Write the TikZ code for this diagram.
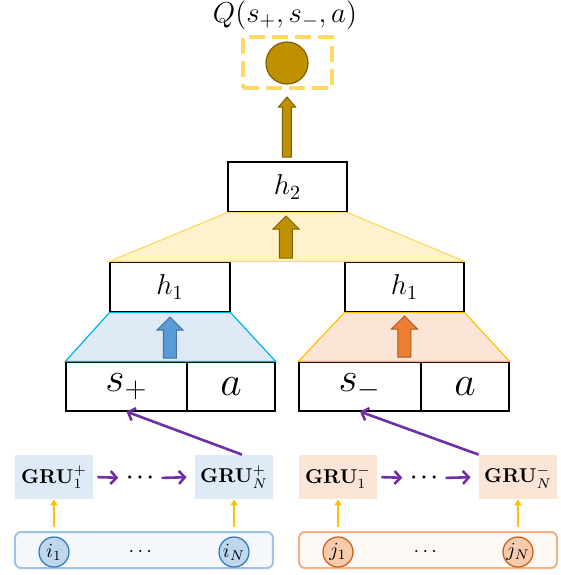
\documentclass[tikz,border=0pt]{standalone}
\usepackage{amsmath, amssymb}
\usepackage{xcolor}
\usepackage{tikz}
\usetikzlibrary{calc, arrows.meta}

\definecolor{goldfill}{HTML}{BF9000}
\definecolor{golddraw}{HTML}{7F6000}
\definecolor{yellowfill}{HTML}{FFF2CC}
\definecolor{yellowdraw}{HTML}{FFD966}
\definecolor{bluefill}{HTML}{DEEBF7}
\definecolor{bluedraw}{HTML}{00B0F0}
\definecolor{bluearrow}{HTML}{5B9BD5}
\definecolor{bluearrowdraw}{HTML}{41719C}
\definecolor{orangefill}{HTML}{FBE5D6}
\definecolor{orangedraw}{HTML}{FFC000}
\definecolor{orangearrow}{HTML}{ED7D31}
\definecolor{orangearrowdraw}{HTML}{AE5A21}
\definecolor{gruarrow}{HTML}{7030A0}
\definecolor{inarrow}{HTML}{FFC000}
\definecolor{inbluedraw}{HTML}{9DC3E6}
\definecolor{inbluefill}{HTML}{F5F9FD}
\definecolor{tokbluefill}{HTML}{BDD7EE}
\definecolor{tokbluedraw}{HTML}{2E75B6}
\definecolor{inorangedraw}{HTML}{F4B183}
\definecolor{inorangefill}{HTML}{FEF8F4}
\definecolor{tokorangefill}{HTML}{F8CBAD}
\definecolor{tokorangedraw}{HTML}{C55A11}

\tikzset{
    cell/.style={draw, fill=white, line width=0.6pt, inner sep=0pt, minimum height=25pt},
    grucell/.style={inner sep=0pt, minimum width=39pt, minimum height=22pt},
    inbox/.style={rounded corners=3pt, line width=1pt, inner sep=0pt, minimum width=129pt, minimum height=18pt},
    token/.style={circle, line width=0.6pt, inner sep=0pt, minimum size=15pt},
    seqarrow/.style={draw=gruarrow, line width=1.3pt, -{Straight Barb[length=3pt, width=6.5pt]}},
    uparrow/.style={draw=inarrow, line width=1pt, -{Triangle[length=3pt, width=3.5pt]}}
}

\begin{document}
\begin{tikzpicture}[x=0.5pt, y=-0.5pt]
    \useasboundingbox (0,0) rectangle (561,575);

    % Dau ra Q
    \node (qlabel) at (285,15) {\Large $Q(s_+, s_-, a)$};
    \node[draw=yellowdraw, dashed, dash pattern=on 8pt off 3.5pt, line width=1.6pt,
          minimum width=44.5pt, minimum height=25.5pt, inner sep=0pt] (qbox) at (287.5,62.5) {};
    \node[circle, fill=goldfill, draw=golddraw, line width=0.6pt, minimum size=21pt, inner sep=0pt] (qout) at (287,63) {};

    % Cac lop an
    \node[cell, minimum width=59.5pt] (h2) at (287.5,187) {\Large $h_2$};
    \node[cell, minimum width=60pt] (h1p) at (170,287) {\Large $h_1$};
    \node[cell, minimum width=59.5pt] (h1m) at (404.5,287) {\Large $h_1$};

    % Dau vao (s, a)
    \node[cell, minimum width=60.5pt, minimum height=24.5pt] (sp) at (126.5,386.5) {\huge $s_+$};
    \node[cell, minimum width=44pt, minimum height=24.5pt] (ap) at (231,386.5) {\huge $a$};
    \node[cell, minimum width=61pt, minimum height=24.5pt] (sm) at (360,386.5) {\huge $s_-$};
    \node[cell, minimum width=44pt, minimum height=24.5pt] (am) at (465,386.5) {\huge $a$};

    % Hinh thang
    \draw[fill=yellowfill, draw=yellowdraw, line width=0.6pt]
        (h2.south west) -- (h2.south east) -- (h1m.north east) -- (h1p.north west) -- cycle;
    \draw[fill=bluefill, draw=bluedraw, line width=0.6pt]
        (h1p.south west) -- (h1p.south east) -- (ap.north east) -- (sp.north west) -- cycle;
    \draw[fill=orangefill, draw=orangedraw, line width=0.6pt]
        (h1m.south west) -- (h1m.south east) -- (am.north east) -- (sm.north west) -- cycle;

    % Mui ten khoi
    \draw[fill=goldfill, draw=golddraw, line width=0.5pt]
        (282.5,157) -- ++(0,-50) -- ++(-4,0) -- ++(8.5,-10) -- ++(8.5,10) -- ++(-4,0) -- ++(0,50) -- cycle;
    \draw[fill=goldfill, draw=golddraw, line width=0.5pt]
        (279.5,258) -- ++(0,-29) -- ++(-6.5,0) -- ++(13,-13) -- ++(13,13) -- ++(-6.5,0) -- ++(0,29) -- cycle;
    \draw[fill=bluearrow, draw=bluearrowdraw, line width=0.5pt]
        (163.5,358) -- ++(0,-28) -- ++(-6.5,0) -- ++(13,-13) -- ++(13,13) -- ++(-6.5,0) -- ++(0,28) -- cycle;
    \draw[fill=orangearrow, draw=orangearrowdraw, line width=0.5pt]
        (398,357) -- ++(0,-28) -- ++(-6.5,0) -- ++(13,-13) -- ++(13,13) -- ++(-6.5,0) -- ++(0,28) -- cycle;

    % GRU
    \node[grucell, fill=bluefill] (g1p) at (54,477) {$\mathbf{GRU}_1^{+}$};
    \node[inner sep=0pt] (dotp) at (142,478) {$\boldsymbol{\cdots}$};
    \node[grucell, fill=bluefill] (gNp) at (234,477) {$\mathbf{GRU}_N^{+}$};
    \node[grucell, fill=orangefill] (g1m) at (338,477) {$\mathbf{GRU}_1^{-}$};
    \node[inner sep=0pt] (dotm) at (426,478) {$\boldsymbol{\cdots}$};
    \node[grucell, fill=orangefill] (gNm) at (518,477) {$\mathbf{GRU}_N^{-}$};

    \draw[seqarrow, shorten <=2pt, shorten >=4pt] (g1p.east) -- (dotp.west);
    \draw[seqarrow, shorten <=2pt, shorten >=4pt] (dotp.east) -- (gNp.west);
    \draw[seqarrow, shorten <=2pt, shorten >=4pt] (g1m.east) -- (dotm.west);
    \draw[seqarrow, shorten <=2pt, shorten >=4pt] (dotm.east) -- (gNm.west);
    \draw[seqarrow] ($(gNp.north)+(8,0)$) -- (sp.south);
    \draw[seqarrow] (gNm.north west) -- (sm.south);

    % Chuoi dau vao
    \node[inbox, draw=inbluedraw, fill=inbluefill] (inp) at (144,550) {};
    \node[token, fill=tokbluefill, draw=tokbluedraw] (i1) at (54,552) {$i_1$};
    \node (idots) at (142,552) {$\cdots$};
    \node[token, fill=tokbluefill, draw=tokbluedraw] (iN) at (234,552) {$i_N$};

    \node[inbox, draw=inorangedraw, fill=inorangefill] (inm) at (428,550) {};
    \node[token, fill=tokorangefill, draw=tokorangedraw] (j1) at (338,552) {$j_1$};
    \node (jdots) at (427,552) {$\cdots$};
    \node[token, fill=tokorangefill, draw=tokorangedraw] (jN) at (518,552) {$j_N$};

    \draw[uparrow] ($(inp.north -| i1)+(0,-4)$) -- (g1p.south);
    \draw[uparrow] ($(inp.north -| iN)+(0,-4)$) -- (gNp.south);
    \draw[uparrow] ($(inm.north -| j1)+(0,-4)$) -- (g1m.south);
    \draw[uparrow] ($(inm.north -| jN)+(0,-4)$) -- (gNm.south);
\end{tikzpicture}
\end{document}
